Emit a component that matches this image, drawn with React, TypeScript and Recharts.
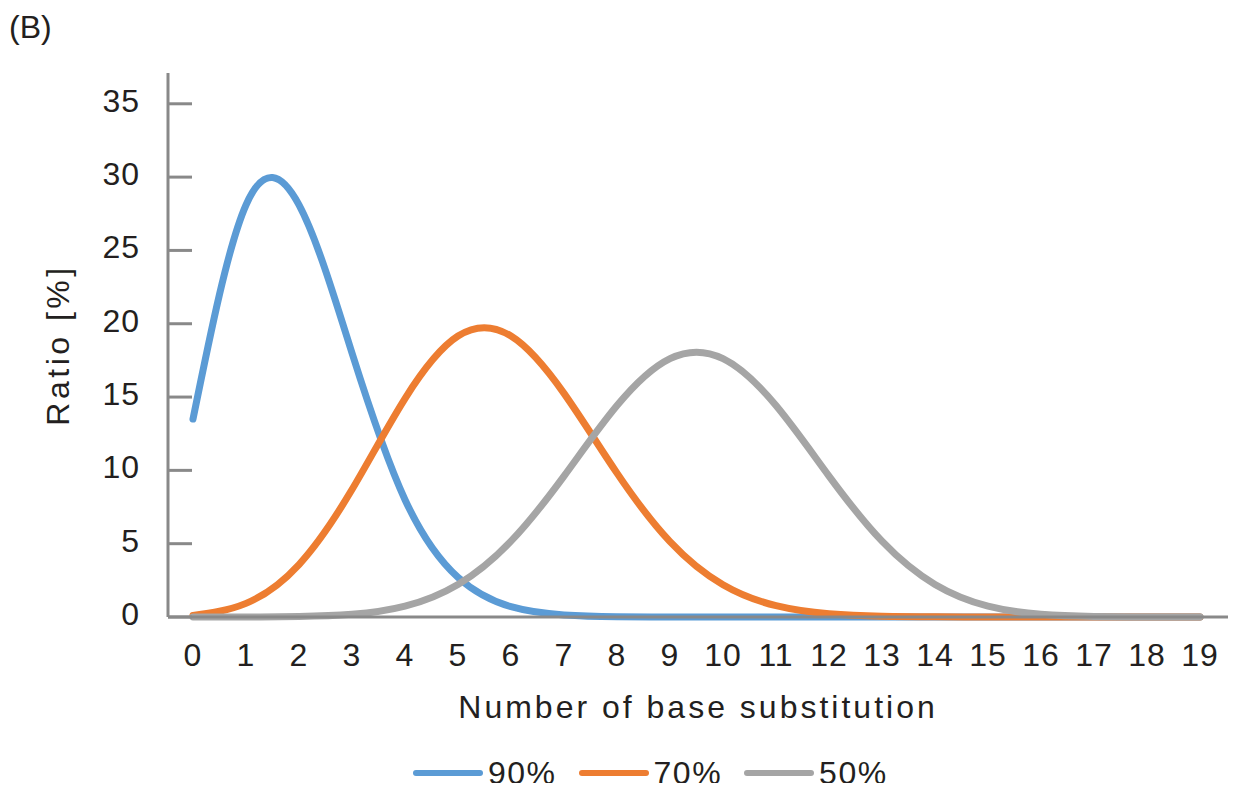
import { CartesianGrid, Line, LineChart, XAxis, YAxis } from "recharts";

const substitutions = [0, 1, 2, 3, 4, 5, 6, 7, 8, 9, 10, 11, 12, 13, 14, 15, 16, 17, 18, 19];
const ratio90 = [13.5, 28.1, 28.1, 18.0, 8.0, 2.7, 0.7, 0.14, 0.02, 0, 0, 0, 0, 0, 0, 0, 0, 0, 0, 0];
const ratio70 = [0.11, 0.93, 3.58, 8.69, 14.9, 19.16, 19.16, 15.25, 9.81, 5.14, 2.2, 0.77, 0.22, 0.05, 0.01, 0, 0, 0, 0, 0];
const ratio50 = [0, 0, 0.03, 0.18, 0.74, 2.22, 5.17, 9.61, 14.42, 17.62, 17.62, 14.42, 9.61, 5.17, 2.22, 0.74, 0.18, 0.03, 0, 0];
const yTicks = [0, 5, 10, 15, 20, 25, 30, 35];

const series = [
  { key: "p90", name: "90%", color: "#5B9BD5", values: ratio90 },
  { key: "p70", name: "70%", color: "#ED7D31", values: ratio70 },
  { key: "p50", name: "50%", color: "#A5A5A5", values: ratio50 },
];

const rows = substitutions.map((n, i) => ({
  n: String(n),
  p90: ratio90[i],
  p70: ratio70[i],
  p50: ratio50[i],
}));

const axisColor = "#898989";
const textColor = "#231F20";
const font = "'Liberation Sans', Arial, sans-serif";

function YTick({ x, y, payload }: any) {
  return (
    <g>
      <line x1={x} x2={x + 24} y1={y} y2={y} stroke={axisColor} strokeWidth={3} />
      <text x={x - 28} y={y - 3} textAnchor="end" dominantBaseline="central" fontSize={32} fill={textColor} fontFamily={font} letterSpacing={1}>
        {payload.value}
      </text>
    </g>
  );
}

function XTick({ x, y, payload }: any) {
  return (
    <text x={x} y={y + 38} textAnchor="middle" dominantBaseline="central" fontSize={32} fill={textColor} fontFamily={font} letterSpacing={1}>
      {payload.value}
    </text>
  );
}

export default function App() {
  return (
    <div style={{ position: "relative", width: 1237, height: 791, margin: -8, fontFamily: font, color: textColor, background: "#fff" }}>
      <div style={{ position: "absolute", left: 9, top: 9, fontSize: 32 }}>(B)</div>
      <LineChart width={1237} height={791} data={rows} margin={{ top: 73, right: 9, bottom: 173, left: 118 }}>
        <CartesianGrid stroke="none" />
        <XAxis
          dataKey="n"
          padding={{ left: 25, right: 28 }}
          axisLine={{ stroke: axisColor, strokeWidth: 3 }}
          tickLine={false}
          tickSize={0}
          tickMargin={0}
          tick={<XTick />}
          interval={0}
          height={1}
          label={{ value: "Number of base substitution", position: "insideBottom", offset: -100, fontSize: 32, fill: textColor, fontFamily: font, letterSpacing: 3 } as any}
        />
        <YAxis
          domain={[0, 37.1]}
          ticks={yTicks}
          width={50}
          axisLine={{ stroke: axisColor, strokeWidth: 3 }}
          tickLine={false}
          tickSize={0}
          tickMargin={0}
          tick={<YTick />}
          label={{ value: "Ratio [%]", angle: -90, position: "insideLeft", offset: -60, fontSize: 32, fill: textColor, fontFamily: font, letterSpacing: 3.5, style: { textAnchor: "middle" } } as any}
        />
        {series.map((s) => (
          <Line key={s.key} type="natural" dataKey={s.key} name={s.name} stroke={s.color} strokeWidth={7} dot={false} activeDot={false} isAnimationActive={false} strokeLinecap="round" />
        ))}
      </LineChart>
      <div style={{ position: "absolute", top: 755, left: 413, display: "flex" }}>
        {series.map((s) => (
          <div key={s.key} style={{ display: "flex", alignItems: "center", marginRight: 22, fontSize: 32, letterSpacing: 1.5, lineHeight: "36px" }}>
            <span style={{ display: "inline-block", width: 70, height: 6, borderRadius: 3, background: s.color, marginRight: 5 }} />
            {s.name}
          </div>
        ))}
      </div>
    </div>
  );
}
